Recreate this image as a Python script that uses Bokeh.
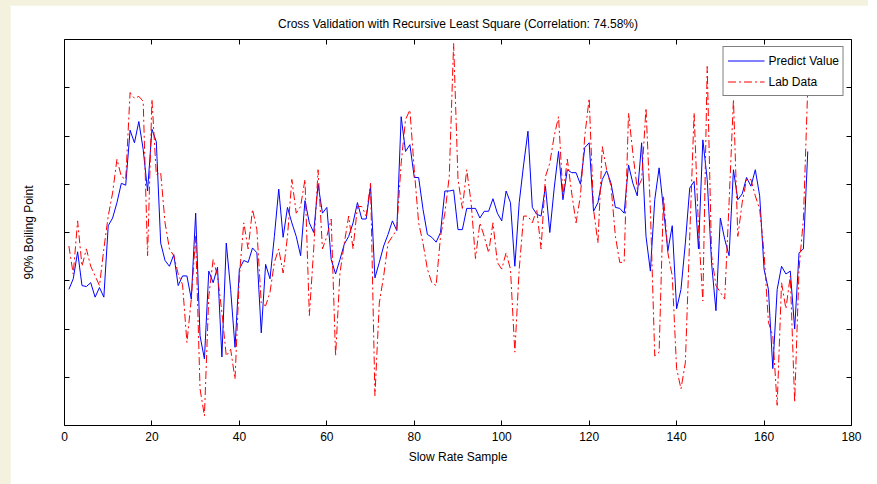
from bokeh.plotting import figure
from bokeh.models import LinearAxis, FixedTicker, Range1d
from bokeh.layouts import column
from bokeh.embed import file_html
from bokeh.resources import INLINE

# Sample index of each slow-rate sample
sample = list(range(1, 171))

# RLS prediction of the 90% boiling point
predict_value = [
    334.1, 335.2, 338.0, 334.5, 334.4, 334.8, 333.3, 334.3, 333.3, 340.7,
    341.5, 343.1, 345.1, 344.9, 350.6, 349.3, 351.5, 348.6, 344.3, 350.7,
    349.4, 338.9, 337.1, 336.5, 337.7, 334.5, 335.5, 335.5, 333.1, 342.0,
    329.3, 326.9, 336.0, 334.8, 336.4, 327.1, 338.9, 334.1, 328.1, 336.2,
    337.1, 336.9, 338.4, 337.9, 329.6, 336.7, 335.2, 339.6, 344.5, 339.5,
    342.6, 341.0, 339.6, 337.6, 343.3, 341.0, 340.0, 345.0, 342.0, 342.6,
    337.2, 335.7, 337.2, 338.8, 339.6, 341.0, 343.1, 341.4, 341.4, 344.8,
    335.3, 336.9, 338.6, 339.8, 341.2, 340.2, 352.0, 348.4, 349.1, 345.7,
    345.7, 342.4, 339.8, 339.5, 339.0, 340.0, 344.3, 344.3, 344.4, 340.3,
    340.3, 342.5, 342.5, 342.5, 341.5, 342.2, 342.2, 343.5, 342.0, 341.2,
    344.3, 343.1, 336.5, 343.1, 347.0, 350.5, 342.6, 341.9, 341.7, 344.8,
    340.0, 344.6, 348.4, 343.4, 346.5, 346.2, 346.2, 345.0, 348.8, 349.3,
    342.2, 343.1, 345.5, 346.4, 345.1, 342.6, 342.5, 342.0, 347.0, 345.1,
    343.8, 349.3, 339.6, 336.0, 343.4, 346.7, 342.4, 338.1, 340.7, 332.1,
    334.1, 338.9, 344.6, 345.3, 338.3, 349.6, 345.5, 336.8, 331.9, 341.5,
    339.3, 337.6, 346.5, 343.4, 344.0, 345.7, 344.8, 346.5, 343.8, 336.2,
    334.1, 325.9, 334.1, 336.5, 335.7, 336.0, 330.0, 337.9, 338.3, 348.4,
]

# Laboratory measurement of the 90% boiling point
lab_data = [
    338.6, 335.7, 341.2, 336.5, 338.3, 336.5, 335.5, 334.5, 338.3, 341.7,
    344.1, 347.6, 345.8, 345.5, 354.5, 353.9, 354.1, 353.6, 337.6, 353.8,
    346.0, 346.2, 341.0, 338.3, 337.6, 335.7, 334.6, 328.6, 333.1, 339.6,
    323.8, 321.0, 333.4, 337.2, 335.5, 331.7, 327.2, 327.9, 324.8, 335.5,
    341.0, 338.3, 342.4, 340.3, 332.7, 332.4, 333.8, 336.9, 338.3, 335.8,
    339.6, 345.5, 342.0, 342.7, 345.5, 331.4, 338.3, 346.5, 338.3, 339.6,
    341.4, 327.2, 335.8, 338.9, 341.7, 338.3, 342.7, 342.7, 341.7, 345.1,
    323.1, 332.7, 335.5, 338.9, 339.6, 340.3, 347.2, 351.7, 352.7, 346.5,
    341.0, 338.9, 336.2, 334.8, 334.5, 339.6, 342.0, 345.8, 359.6, 345.5,
    342.5, 346.5, 343.1, 337.3, 341.0, 339.6, 337.9, 341.0, 336.9, 336.2,
    337.9, 336.2, 327.6, 336.2, 341.7, 341.7, 341.0, 342.4, 338.3, 345.8,
    347.2, 350.0, 352.0, 343.8, 347.6, 344.1, 341.0, 343.8, 350.0, 353.9,
    342.4, 338.9, 348.9, 346.5, 344.8, 339.6, 336.9, 336.9, 352.4, 348.2,
    344.5, 345.5, 352.9, 342.4, 327.2, 327.6, 343.8, 337.9, 335.5, 325.9,
    323.8, 326.5, 339.6, 352.4, 340.4, 332.9, 357.2, 337.6, 334.5, 333.8,
    333.1, 343.1, 353.8, 339.6, 343.1, 345.5, 345.5, 343.8, 342.4, 337.9,
    330.7, 329.3, 322.1, 334.8, 332.1, 335.5, 322.4, 336.2, 341.4, 355.1,
]

x_ticks = [0, 20, 40, 60, 80, 100, 120, 140, 160, 180]
y_ticks = [325, 330, 335, 340, 345, 350, 355]

FONT = "Liberation Sans"
FONT_SIZE = "12px"

fig = figure(
    width=858, height=479,
    x_range=Range1d(0, 180), y_range=Range1d(320, 360),
    output_backend="svg", toolbar_location=None,
    min_border_left=54, min_border_right=17,
    min_border_top=33, min_border_bottom=59,
    background_fill_color="white", border_fill_color="white",
    title="Cross Validation with Recursive Least Square (Correlation: 74.58%)",
)

fig.title.align = "center"
fig.title.text_font = FONT
fig.title.text_font_size = FONT_SIZE
fig.title.text_font_style = "normal"
fig.title.text_color = "black"
fig.title.standoff = 18

fig.outline_line_color = "black"
fig.outline_line_width = 1
fig.xgrid.visible = False
fig.ygrid.visible = False


def unlabeled(ticks):
    # tick marks without any tick text
    return {t: "" for t in ticks}


# Bottom / left axes carry the titles; ticks point inward
for ax in fig.xaxis + fig.yaxis:
    ax.axis_line_color = None
    ax.major_tick_in = 5
    ax.major_tick_out = 0
    ax.minor_tick_line_color = None
    ax.major_tick_line_color = "black"
    ax.major_label_text_font = FONT
    ax.major_label_text_font_size = FONT_SIZE
    ax.major_label_text_color = "black"
    ax.axis_label_text_font = FONT
    ax.axis_label_text_font_size = FONT_SIZE
    ax.axis_label_text_font_style = "normal"
    ax.axis_label_text_color = "black"

fig.xaxis.ticker = FixedTicker(ticks=x_ticks)
fig.xaxis.axis_label = "Slow Rate Sample"
fig.xaxis.major_label_standoff = 6
fig.xaxis.axis_label_standoff = 6

fig.yaxis.ticker = FixedTicker(ticks=y_ticks)
fig.yaxis.axis_label = "90% Boiling Point"
fig.yaxis.major_label_overrides = unlabeled(y_ticks)
fig.yaxis.major_label_standoff = 0
fig.yaxis.axis_label_standoff = 29

# Mirrored ticks on the top and right edges of the box
top_axis = LinearAxis(ticker=FixedTicker(ticks=x_ticks),
                      major_label_overrides=unlabeled(x_ticks))
right_axis = LinearAxis(ticker=FixedTicker(ticks=y_ticks),
                        major_label_overrides=unlabeled(y_ticks))
for ax in (top_axis, right_axis):
    ax.axis_line_color = None
    ax.major_tick_in = 5
    ax.major_tick_out = 0
    ax.minor_tick_line_color = None
    ax.major_label_standoff = 0
fig.add_layout(top_axis, "above")
fig.add_layout(right_axis, "right")

fig.line(sample, predict_value, line_color="#0000ff", line_width=1,
         legend_label="Predict Value")
fig.line(sample, lab_data, line_color="#ff0000", line_width=1,
         line_dash="8 3 2 3", legend_label="Lab Data")

lg = fig.legend[0]
lg.location = "top_right"
lg.margin = 7
lg.padding = 4
lg.spacing = 2
lg.border_line_color = "black"
lg.border_line_width = 1
lg.background_fill_color = "white"
lg.background_fill_alpha = 1
lg.label_text_font = FONT
lg.label_text_font_size = FONT_SIZE
lg.label_text_color = "black"
lg.glyph_width = 37
lg.glyph_height = 19
lg.label_height = 19
lg.label_standoff = 4

p = column(fig, styles={"background-color": "#F4F2DE",
                        "padding-left": "10px", "padding-top": "5px"})

open("out.html", "w").write(file_html(p, INLINE))
